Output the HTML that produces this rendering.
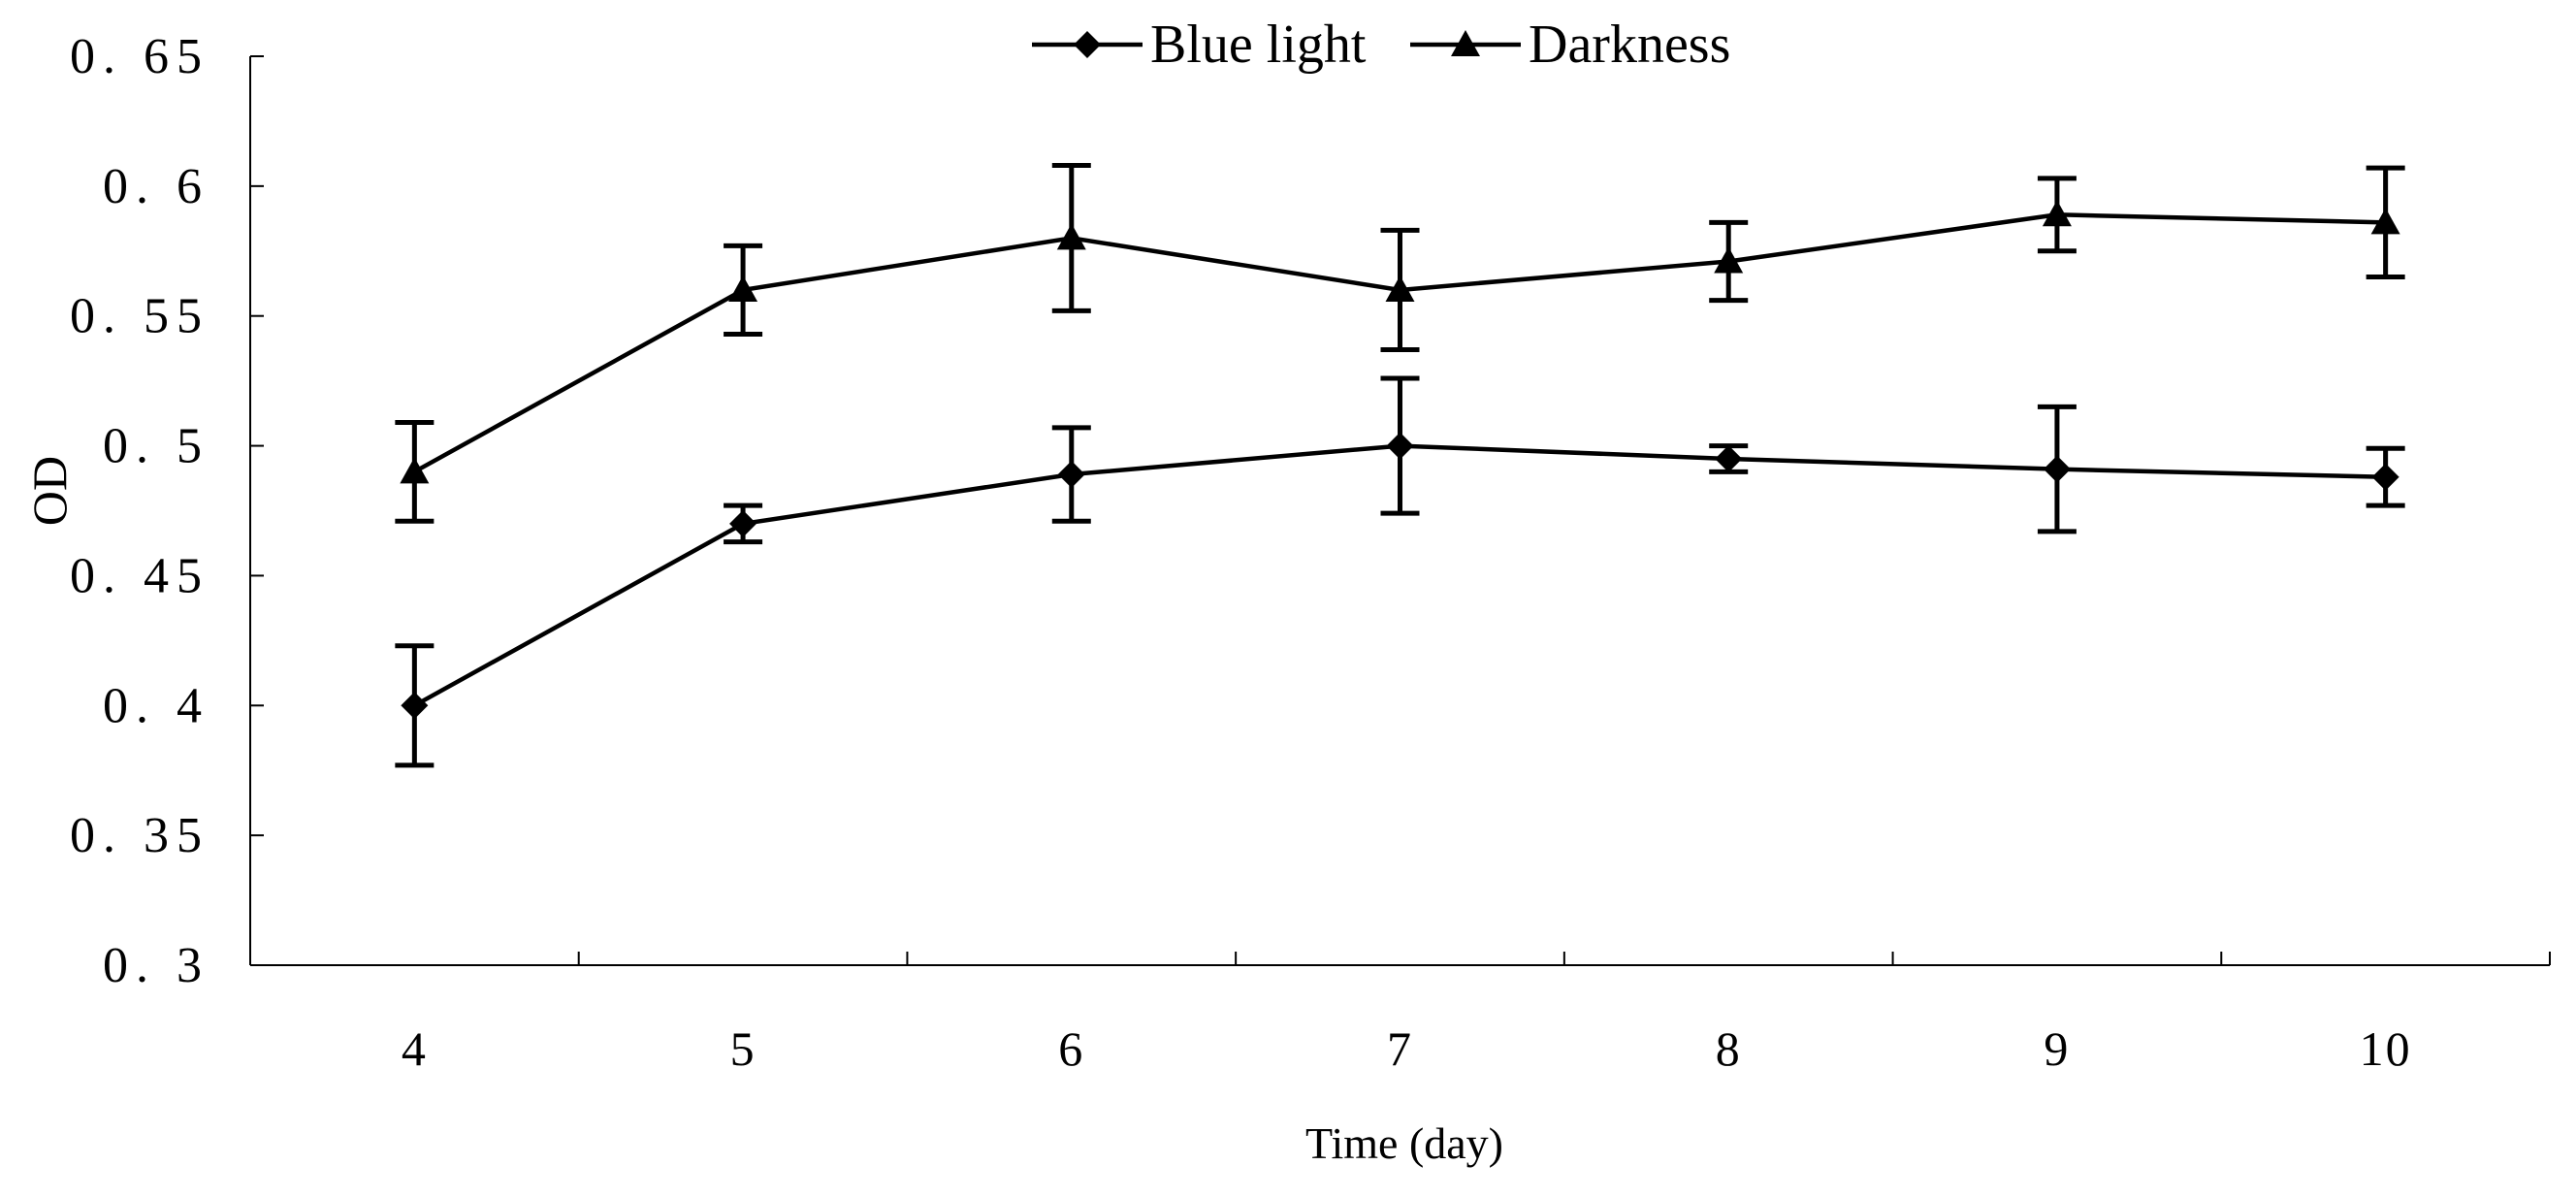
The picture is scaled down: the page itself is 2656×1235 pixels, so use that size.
<!DOCTYPE html>
<html><head><meta charset="utf-8"><style>
html,body{margin:0;padding:0;background:#fff;}
svg{display:block;}
text{font-family:"Liberation Serif",serif;fill:#000;}
</style></head><body>
<svg id="chart" width="2656" height="1235" viewBox="0 0 2656 1235" xmlns="http://www.w3.org/2000/svg">
<g id="axes"></g>
<g id="series"></g>
<g id="legend"></g>
<text transform="translate(68,506) rotate(-90)" text-anchor="middle" font-size="50">OD</text>
<text x="1448" y="1194" text-anchor="middle" font-size="46">Time (day)</text>
</svg>
<script>
const categories = [4,5,6,7,8,9,10];
const blueValues = [0.400,0.470,0.489,0.500,0.495,0.491,0.488];
const blueErrors = [0.023,0.007,0.018,0.026,0.005,0.024,0.011];
const darkValues = [0.490,0.560,0.580,0.560,0.571,0.589,0.586];
const darkErrors = [0.019,0.017,0.028,0.023,0.015,0.014,0.021];
const yTicks = [0.3,0.35,0.4,0.45,0.5,0.55,0.6,0.65];
const yTickLabels = ["0. 3","0. 35","0. 4","0. 45","0. 5","0. 55","0. 6","0. 65"];

const NS="http://www.w3.org/2000/svg";
const L=258,R=2629,T=58,B=995,yMin=0.3,yMax=0.65;
const band=(R-L)/categories.length;
function xPos(i){return L+band*(i+0.5);}
function yPos(v){return B-(v-yMin)/(yMax-yMin)*(B-T);}
function mk(tag,attrs,parent){const e=document.createElementNS(NS,tag);for(const k in attrs)e.setAttribute(k,attrs[k]);parent.appendChild(e);return e;}

const axes=document.getElementById('axes');
let e=mk('line',{x1:L,y1:T,x2:L,y2:B,stroke:'#000','stroke-width':2},axes);


e=mk('line',{x1:L,y1:B,x2:R,y2:B,stroke:'#000','stroke-width':2},axes);


yTicks.forEach((v,i)=>{
  const y=yPos(v);
  const t=mk('line',{x1:L,y1:y,x2:L+14,y2:y,stroke:'#000','stroke-width':2},axes);
  
  
  const lb=mk('text',{x:216,y:y+17,'text-anchor':'end','font-size':52,'letter-spacing':8},axes);
  lb.textContent=yTickLabels[i];
  
  
});
for(let i=1;i<=categories.length;i++){
  const x=L+band*i;
  const t=mk('line',{x1:x,y1:B,x2:x,y2:B-14,stroke:'#000','stroke-width':2},axes);
  
  
}
categories.forEach((c,i)=>{
  const lb=mk('text',{x:xPos(i),y:1098,'text-anchor':'middle','font-size':50,'letter-spacing':2},axes);
  lb.textContent=c;
  
  
});

function diamond(x,y,p,s){return mk('polygon',{points:`${x},${y-s} ${x+s},${y} ${x},${y+s} ${x-s},${y}`,fill:'#000'},p);}
function tri(x,y,p,s){return mk('polygon',{points:`${x},${y-s} ${x+s},${y+s*0.8} ${x-s},${y+s*0.8}`,fill:'#000'},p);}

const series=document.getElementById('series');
function drawSeries(vals,errs,name,marker){
  const g=mk('g',{},series);
  
  
  const pts=vals.map((v,i)=>xPos(i)+','+yPos(v)).join(' ');
  const pl=mk('polyline',{points:pts,fill:'none',stroke:'#000','stroke-width':4.5},g);
  
  
  vals.forEach((v,i)=>{
    const x=xPos(i),y1=yPos(v+errs[i]),y2=yPos(v-errs[i]);
    const eb=mk('path',{d:`M${x},${y1}V${y2}M${x-20},${y1}H${x+20}M${x-20},${y2}H${x+20}`,stroke:'#000','stroke-width':5,fill:'none'},g);
    
    
    const m=marker(x,yPos(v),g,marker===diamond?14:15);
    
    
  });
}
drawSeries(blueValues,blueErrors,'blue-light',diamond);
drawSeries(darkValues,darkErrors,'darkness',tri);

const legend=document.getElementById('legend');
function legendEntry(x0,name,label,marker){
  const g=mk('g',{},legend);
  
  
  mk('line',{x1:x0,y1:46,x2:x0+114,y2:46,stroke:'#000','stroke-width':4.5},g);
  marker(x0+57,46,g,marker===diamond?14:15);
  const t=mk('text',{x:x0+122,y:64,'font-size':56},g);
  t.textContent=label;
}
legendEntry(1064,'blue-light','Blue light',diamond);
legendEntry(1454,'darkness','Darkness',tri);
</script>
</body></html>
